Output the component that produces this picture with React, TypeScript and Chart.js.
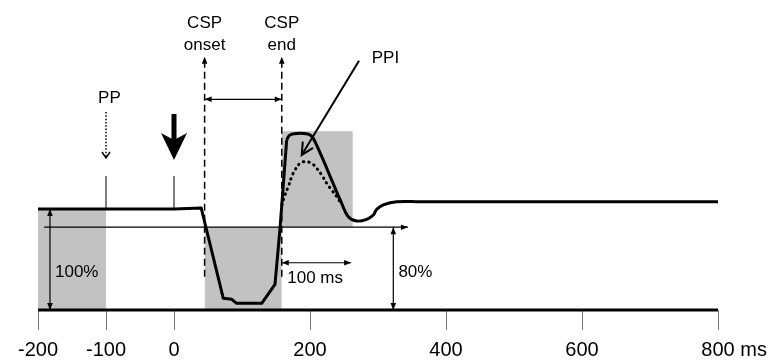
import React, { useEffect, useRef } from 'react';
import { Chart, registerables } from 'chart.js';

Chart.register(...registerables);

const FONT = "'Liberation Sans', Arial, Helvetica, sans-serif";

// x axis (ms)
const xTicks = [-200, -100, 0, 200, 400, 600, 800];
const xTickLabels = ['-200', '-100', '0', '200', '400', '600', '800'];
const xUnit = 'ms';

// EMG levels (% of pre-stimulus level)
const baselineLevel = 0;
const fullLevel = 100;
const cutoffLevel = 82;

// shaded windows
const shadeStart = [-200, 45, 158.5];
const shadeEnd = [-100, 158.5, 263];
const shadeLow = [0, 0, 82];
const shadeHigh = [100, 82, 177];

// rectified EMG trace: pre-stimulus level and silent period
const dropX = [-200, 0, 40, 72.5, 84.9, 92.2, 129, 148.5, 155.9, 165.7];
const dropY = [100, 100, 101, 11.6, 10.6, 6.6, 6.6, 25.4, 80.9, 168.3];
// rebound and recovery
const reboundX = [165.7, 170.6, 185.3, 200, 207.4, 246.6, 256.3, 268.7, 283.4, 293.1, 298.1, 307.8, 327.5, 361.8, 800];
const reboundY = [168.3, 173.3, 175, 173.3, 166.6, 105.6, 92.4, 88.1, 89.8, 94.1, 99.7, 104, 107.2, 107.2, 107.2];
// rebound with paired-pulse inhibition (dotted)
const ppiX = [158.5, 163.2, 168.1, 173.1, 177.9, 185.3, 192.6, 202.5, 209.9, 217.2, 224.6, 231.9, 239.3, 244.1];
const ppiY = [104, 113.9, 122.1, 132, 138.6, 145.2, 146.8, 145.2, 140.3, 133.7, 125.4, 118.8, 112.2, 107.2];

// event markers
const cspOnset = 45;
const cspEnd = 158.5;
const ppTime = -100;
const stimTime = 0;

// annotations
const noteText = ['PP', 'CSP', 'onset', 'CSP', 'end', 'PPI', '100%', '80%', '100 ms'];
const noteX = [-95, 45, 45, 158.5, 158.5, 311, -175, 330, 166.6];
const noteY = [204.7, 279.5, 257.4, 279.5, 257.4, 244.9, 32.4, 32.4, 26.4];
const noteAlign = ['center', 'center', 'center', 'center', 'center', 'center', 'left', 'left', 'left'];

const xy = (xs: number[], ys: number[]) => xs.map((x, i) => ({ x, y: ys[i] }));
const seg = (x0: number, y0: number, x1: number, y1: number) => [
  { x: x0, y: y0 },
  { x: x1, y: y1 },
];

function drawHead(ctx: CanvasRenderingContext2D, tip: any, from: any, kind: string) {
  const ang = Math.atan2(tip.y - from.y, tip.x - from.x);
  ctx.save();
  ctx.translate(tip.x, tip.y);
  ctx.rotate(ang);
  ctx.beginPath();
  if (kind === 'fill') {
    ctx.moveTo(0, 0);
    ctx.lineTo(-7, -2.8);
    ctx.lineTo(-7, 2.8);
    ctx.closePath();
    ctx.fill();
  } else if (kind === 'open') {
    ctx.lineWidth = 1.5;
    ctx.moveTo(-6, -4);
    ctx.lineTo(0, 0);
    ctx.lineTo(-6, 4);
    ctx.stroke();
  } else if (kind === 'openBig') {
    ctx.lineWidth = 2;
    ctx.moveTo(-12, -6);
    ctx.lineTo(0, 0);
    ctx.lineTo(-12, 6);
    ctx.stroke();
  } else if (kind === 'big') {
    ctx.moveTo(20, 0);
    ctx.lineTo(-7, -13);
    ctx.lineTo(0, 0);
    ctx.lineTo(-7, 13);
    ctx.closePath();
    ctx.fill();
  }
  ctx.restore();
}

const notesPlugin = {
  id: 'notes',
  afterDatasetsDraw(chart: any) {
    const ctx = chart.ctx as CanvasRenderingContext2D;
    const { x, y } = chart.scales;
    chart.data.datasets.forEach((ds: any, i: number) => {
      const pts = chart.getDatasetMeta(i).data;
      if (!pts || pts.length < 2) return;
      ctx.save();
      ctx.fillStyle = ds.borderColor;
      ctx.strokeStyle = ds.borderColor;
      ctx.setLineDash([]);
      if (ds.headEnd) drawHead(ctx, pts[pts.length - 1], pts[pts.length - 2], ds.headEnd);
      if (ds.headStart) drawHead(ctx, pts[0], pts[1], ds.headStart);
      ctx.restore();
    });
    ctx.save();
    ctx.fillStyle = '#000';
    ctx.font = `17px ${FONT}`;
    ctx.textBaseline = 'alphabetic';
    noteText.forEach((t, i) => {
      ctx.textAlign = noteAlign[i] as CanvasTextAlign;
      ctx.fillText(t, x.getPixelForValue(noteX[i]), y.getPixelForValue(noteY[i]));
    });
    // axis unit after the last tick label
    ctx.font = `20px ${FONT}`;
    ctx.textAlign = 'left';
    ctx.textBaseline = 'middle';
    const last = xTicks[xTicks.length - 1];
    const w = ctx.measureText(xTickLabels[xTickLabels.length - 1]).width;
    ctx.fillText(' ' + xUnit, x.getPixelForValue(last) + w / 2, x.top + 40);
    ctx.restore();
  },
};

export default function App() {
  const ref = useRef<HTMLCanvasElement | null>(null);

  useEffect(() => {
    if (!ref.current) return;
    const thin = { borderColor: '#000', borderWidth: 1.2, clip: false as any };
    const shades = shadeStart.map((s, i) => ({
      data: seg(s, shadeHigh[i], shadeEnd[i], shadeHigh[i]),
      fill: { value: shadeLow[i] },
      backgroundColor: '#c2c2c2',
      borderWidth: 0,
      borderColor: 'rgba(0,0,0,0)',
      order: 10,
    }));
    const datasets: any[] = [
      { data: seg(-200, baselineLevel, 800, baselineLevel), borderColor: '#000', borderWidth: 3, clip: false },
      { data: xy(dropX, dropY), borderColor: '#000', borderWidth: 3, tension: 0, borderJoinStyle: 'round', clip: false },
      { data: xy(reboundX, reboundY), borderColor: '#000', borderWidth: 3, tension: 0.4, borderJoinStyle: 'round', clip: false },
      { data: xy(ppiX, ppiY), borderColor: '#000', borderWidth: 3, tension: 0.4, borderDash: [0.5, 5], borderCapStyle: 'round', clip: false },
      { ...thin, data: seg(-191, cutoffLevel, 344, cutoffLevel), headEnd: 'fill' },
      { ...thin, data: seg(-182.4, baselineLevel, -182.4, fullLevel), headEnd: 'fill', headStart: 'fill' },
      { ...thin, data: seg(322.5, baselineLevel, 322.5, cutoffLevel), headEnd: 'fill', headStart: 'fill' },
      { ...thin, data: seg(cspEnd, 46.8, cspEnd + 102, 46.8), headEnd: 'fill', headStart: 'fill' },
      { ...thin, data: seg(cspOnset, 208.6, cspEnd, 208.6), headEnd: 'fill', headStart: 'fill' },
      { ...thin, data: seg(cspOnset, 33, cspOnset, 250.8), borderDash: [7, 4], borderWidth: 1.5, headEnd: 'fill' },
      { ...thin, data: seg(cspEnd, 33, cspEnd, 250.8), borderDash: [7, 4], borderWidth: 1.5, headEnd: 'fill' },
      { ...thin, data: seg(ppTime, 196, ppTime, 150.5), borderDash: [1.5, 1.8], borderWidth: 1.5, headEnd: 'open' },
      { ...thin, data: seg(stimTime, 194, stimTime, 168.3), borderWidth: 5, headEnd: 'big' },
      { ...thin, data: seg(ppTime, fullLevel, ppTime, 132.7), borderWidth: 1 },
      { ...thin, data: seg(stimTime, fullLevel, stimTime, 132.7), borderWidth: 1 },
      { ...thin, data: seg(272.1, 246.8, 187.8, 153.5), borderWidth: 2, headEnd: 'openBig' },
      ...shades,
    ];

    const chart = new Chart(ref.current, {
      type: 'line',
      data: { datasets },
      options: {
        animation: false,
        responsive: false,
        devicePixelRatio: 1,
        events: [],
        layout: { padding: { left: 38, right: 61, top: 7, bottom: 0 } },
        elements: { point: { radius: 0 }, line: { fill: false } },
        plugins: { legend: { display: false }, tooltip: { enabled: false } },
        scales: {
          x: {
            type: 'linear',
            min: -200,
            max: 800,
            afterBuildTicks: (s: any) => {
              s.ticks = xTicks.map((v) => ({ value: v }));
            },
            afterFit: (s: any) => {
              s.height = 50;
            },
            ticks: {
              autoSkip: false,
              maxRotation: 0,
              padding: 8,
              color: '#000',
              font: { family: FONT, size: 20 },
              callback: (v: any) => {
                const i = xTicks.indexOf(Number(v));
                return i >= 0 ? xTickLabels[i] : '';
              },
            },
            grid: { drawOnChartArea: false, drawTicks: true, tickLength: 20, color: '#777', lineWidth: 1 },
            border: { display: false },
          },
          y: { type: 'linear', min: 0, max: 300, display: false },
        },
      },
      plugins: [notesPlugin],
    } as any);
    return () => chart.destroy();
  }, []);

  return (
    <div style={{ position: 'absolute', left: 0, top: 0, width: 779, height: 360, background: '#fff' }}>
      <canvas ref={ref} width={779} height={360} />
    </div>
  );
}
